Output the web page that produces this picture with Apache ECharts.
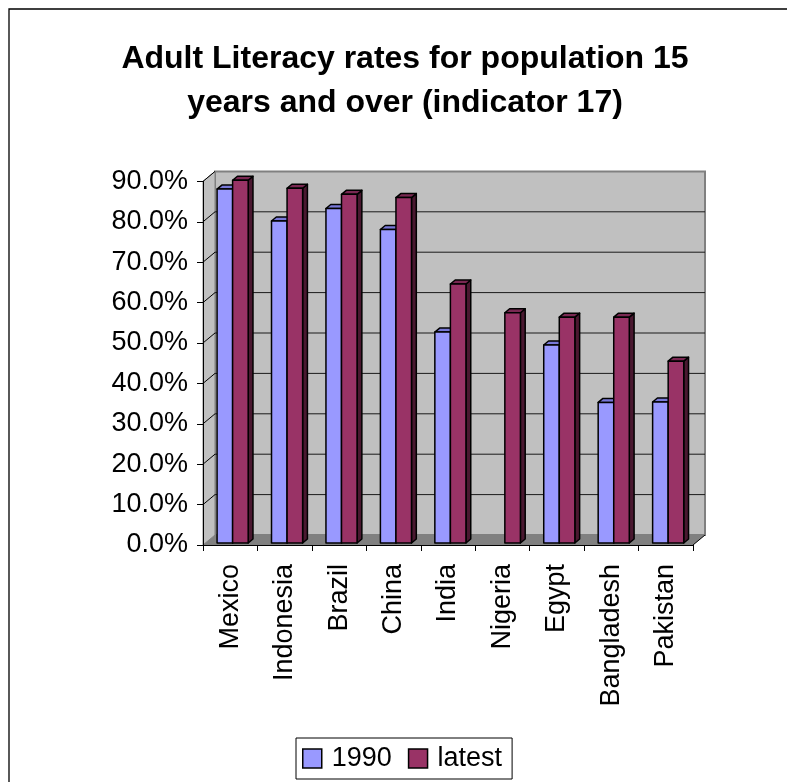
<!DOCTYPE html>
<html>
<head>
<meta charset="utf-8">
<script src="https://cdn.jsdelivr.net/npm/echarts@6/dist/echarts.min.js"></script>
<style>
  html, body { margin: 0; padding: 0; background: #fff; }
  #chart { width: 787px; height: 782px; }
</style>
</head>
<body>
<div id="chart"></div>
<script>
// Adult literacy rate, population aged 15+ (share of population)
const countries = ['Mexico', 'Indonesia', 'Brazil', 'China', 'India', 'Nigeria', 'Egypt', 'Bangladesh', 'Pakistan'];
const rate1990 = [0.876, 0.797, 0.828, 0.776, 0.522, null, 0.490, 0.348, 0.349];
const rateLatest = [0.898, 0.878, 0.863, 0.855, 0.641, 0.570, 0.559, 0.559, 0.450];
const seriesNames = ['1990', 'latest'];

// value axis range
const yMin = 0;
const yMax = 0.9;
const yStep = 0.1;

const FONT = '"Liberation Sans", Arial, Helvetica, sans-serif';

// pseudo-3D depth: full depth of the plot box, and the slab the bars occupy
const DEPTH = [12, -10];
const BAR_FRONT = 0.2;
const BAR_BACK = 0.6;
const GAP_RATIO = 1.5; // gap between clusters relative to a bar's width

const palette = {
  '1990':   { front: '#9999FF', top: '#7878D8', side: '#4C4C99' },
  'latest': { front: '#993366', top: '#7A2852', side: '#4A1830' }
};

const chart = echarts.init(document.getElementById('chart'), null, { renderer: 'canvas' });

function gridValues() {
  const vals = [];
  for (let v = yMin; v <= yMax + 1e-9; v += yStep) vals.push(+v.toFixed(6));
  return vals;
}

// back wall, side wall, floor and their grid lines
function renderWalls(params, api) {
  const cs = params.coordSys;
  const x0 = cs.x, x1 = cs.x + cs.width;
  const yTop = api.coord([0, yMax])[1];
  const yBase = api.coord([0, yMin])[1];
  const dx = DEPTH[0], dy = DEPTH[1];
  const children = [];

  children.push({
    type: 'rect',
    shape: { x: x0 + dx, y: yTop + dy, width: x1 - x0, height: yBase - yTop },
    style: { fill: '#C0C0C0', stroke: '#808080', lineWidth: 2 }
  });
  children.push({
    type: 'polygon',
    shape: { points: [[x0, yTop], [x0 + dx, yTop + dy], [x0 + dx, yBase + dy], [x0, yBase]] },
    style: { fill: '#C0C0C0', stroke: '#808080', lineWidth: 1 }
  });
  children.push({
    type: 'polygon',
    shape: { points: [[x0, yBase], [x0 + dx, yBase + dy], [x1 + dx, yBase + dy], [x1, yBase]] },
    style: { fill: '#808080' }
  });
  children.push({
    type: 'line',
    shape: { x1: x1, y1: yBase, x2: x1 + dx, y2: yBase + dy },
    style: { stroke: '#000', lineWidth: 1 }
  });

  gridValues().forEach(function (v) {
    const y = api.coord([0, v])[1];
    if (v > yMin && v < yMax) {
      children.push({
        type: 'line',
        shape: { x1: x0 + dx, y1: y + dy, x2: x1 + dx, y2: y + dy },
        style: { stroke: '#1a1a1a', lineWidth: 1 }
      });
    }
    if (v > yMin) {
      children.push({
        type: 'line',
        shape: { x1: x0, y1: y, x2: x0 + dx, y2: y + dy },
        style: { stroke: '#000', lineWidth: 1 }
      });
    }
  });

  return { type: 'group', children: children };
}

// one bar as front face, top face and right side face
function makeBarRenderer(slot, colors) {
  return function (params, api) {
    const val = api.value(1);
    if (val === null || val === undefined || isNaN(val)) return;
    const cat = api.value(0);
    const top = api.coord([cat, val]);
    const base = api.coord([cat, yMin]);
    const band = api.size([1, 0])[0];
    const barW = band / (2 + GAP_RATIO);
    const left = top[0] - barW + slot * barW + BAR_FRONT * DEPTH[0];
    const right = left + barW;
    const T = top[1] + BAR_FRONT * DEPTH[1];
    const B = base[1] + BAR_FRONT * DEPTH[1];
    const ddx = (BAR_BACK - BAR_FRONT) * DEPTH[0];
    const ddy = (BAR_BACK - BAR_FRONT) * DEPTH[1];
    const edge = { stroke: '#000', lineWidth: 1.5, lineJoin: 'round' };
    return {
      type: 'group',
      children: [
        {
          type: 'polygon',
          shape: { points: [[right, T], [right + ddx, T + ddy], [right + ddx, B + ddy], [right, B]] },
          style: Object.assign({ fill: colors.side }, edge)
        },
        {
          type: 'polygon',
          shape: { points: [[left, T], [left + ddx, T + ddy], [right + ddx, T + ddy], [right, T]] },
          style: Object.assign({ fill: colors.top }, edge)
        },
        {
          type: 'rect',
          shape: { x: left, y: T, width: barW, height: B - T },
          style: Object.assign({ fill: colors.front }, edge)
        }
      ]
    };
  };
}

function barData(values) {
  return values.map(function (v, i) { return [i, v]; });
}

const option = {
  backgroundColor: '#ffffff',
  animation: false,
  title: {
    text: 'Adult Literacy rates for population 15\nyears and over (indicator 17)',
    left: 400,
    top: 32,
    textAlign: 'center',
    textStyle: { fontFamily: FONT, fontSize: 32, fontWeight: 'bold', color: '#000', lineHeight: 44 }
  },
  legend: {
    data: seriesNames,
    left: 296,
    top: 738,
    orient: 'horizontal',
    icon: 'rect',
    itemWidth: 19,
    itemHeight: 19,
    itemGap: 16,
    padding: [7, 10, 7, 6],
    borderColor: '#000',
    borderWidth: 1,
    itemStyle: { borderColor: '#000', borderWidth: 1.5 },
    textStyle: { fontFamily: FONT, fontSize: 27, color: '#000', padding: [0, 0, 0, 5] }
  },
  grid: {
    left: 203,
    right: 94,
    top: 181.4,
    bottom: 237,
    containLabel: false
  },
  xAxis: {
    type: 'category',
    data: countries,
    z: 10,
    axisLine: { show: true, lineStyle: { color: '#000', width: 1 } },
    axisTick: { show: true, length: 6, alignWithLabel: false, interval: 0, lineStyle: { color: '#000' } },
    axisLabel: {
      interval: 0,
      rotate: 90,
      margin: 19,
      fontFamily: FONT,
      fontSize: 27,
      color: '#000'
    },
    splitLine: { show: false }
  },
  yAxis: {
    type: 'value',
    min: yMin,
    max: yMax,
    interval: yStep,
    z: 10,
    axisLine: { show: true, lineStyle: { color: '#000', width: 1 } },
    axisTick: { show: true, length: 6, lineStyle: { color: '#000' } },
    axisLabel: {
      margin: 15,
      fontFamily: FONT,
      fontSize: 27,
      color: '#000',
      formatter: function (v) { return (v * 100).toFixed(1) + '%'; }
    },
    splitLine: { show: false }
  },
  graphic: [
    {
      type: 'rect',
      silent: true,
      shape: { x: 9, y: 9, width: 900, height: 900 },
      style: { fill: 'none', stroke: '#000', lineWidth: 1.3 },
      z: -1
    }
  ],
  series: [
    {
      name: '__walls',
      type: 'custom',
      silent: true,
      z: 1,
      renderItem: renderWalls,
      data: [[0, 0]],
      tooltip: { show: false }
    },
    {
      name: seriesNames[0],
      type: 'custom',
      z: 3,
      itemStyle: { color: palette['1990'].front },
      renderItem: makeBarRenderer(0, palette['1990']),
      encode: { x: 0, y: 1 },
      data: barData(rate1990)
    },
    {
      name: seriesNames[1],
      type: 'custom',
      z: 4,
      itemStyle: { color: palette['latest'].front },
      renderItem: makeBarRenderer(1, palette['latest']),
      encode: { x: 0, y: 1 },
      data: barData(rateLatest)
    }
  ]
};

chart.setOption(option);
</script>
</body>
</html>
